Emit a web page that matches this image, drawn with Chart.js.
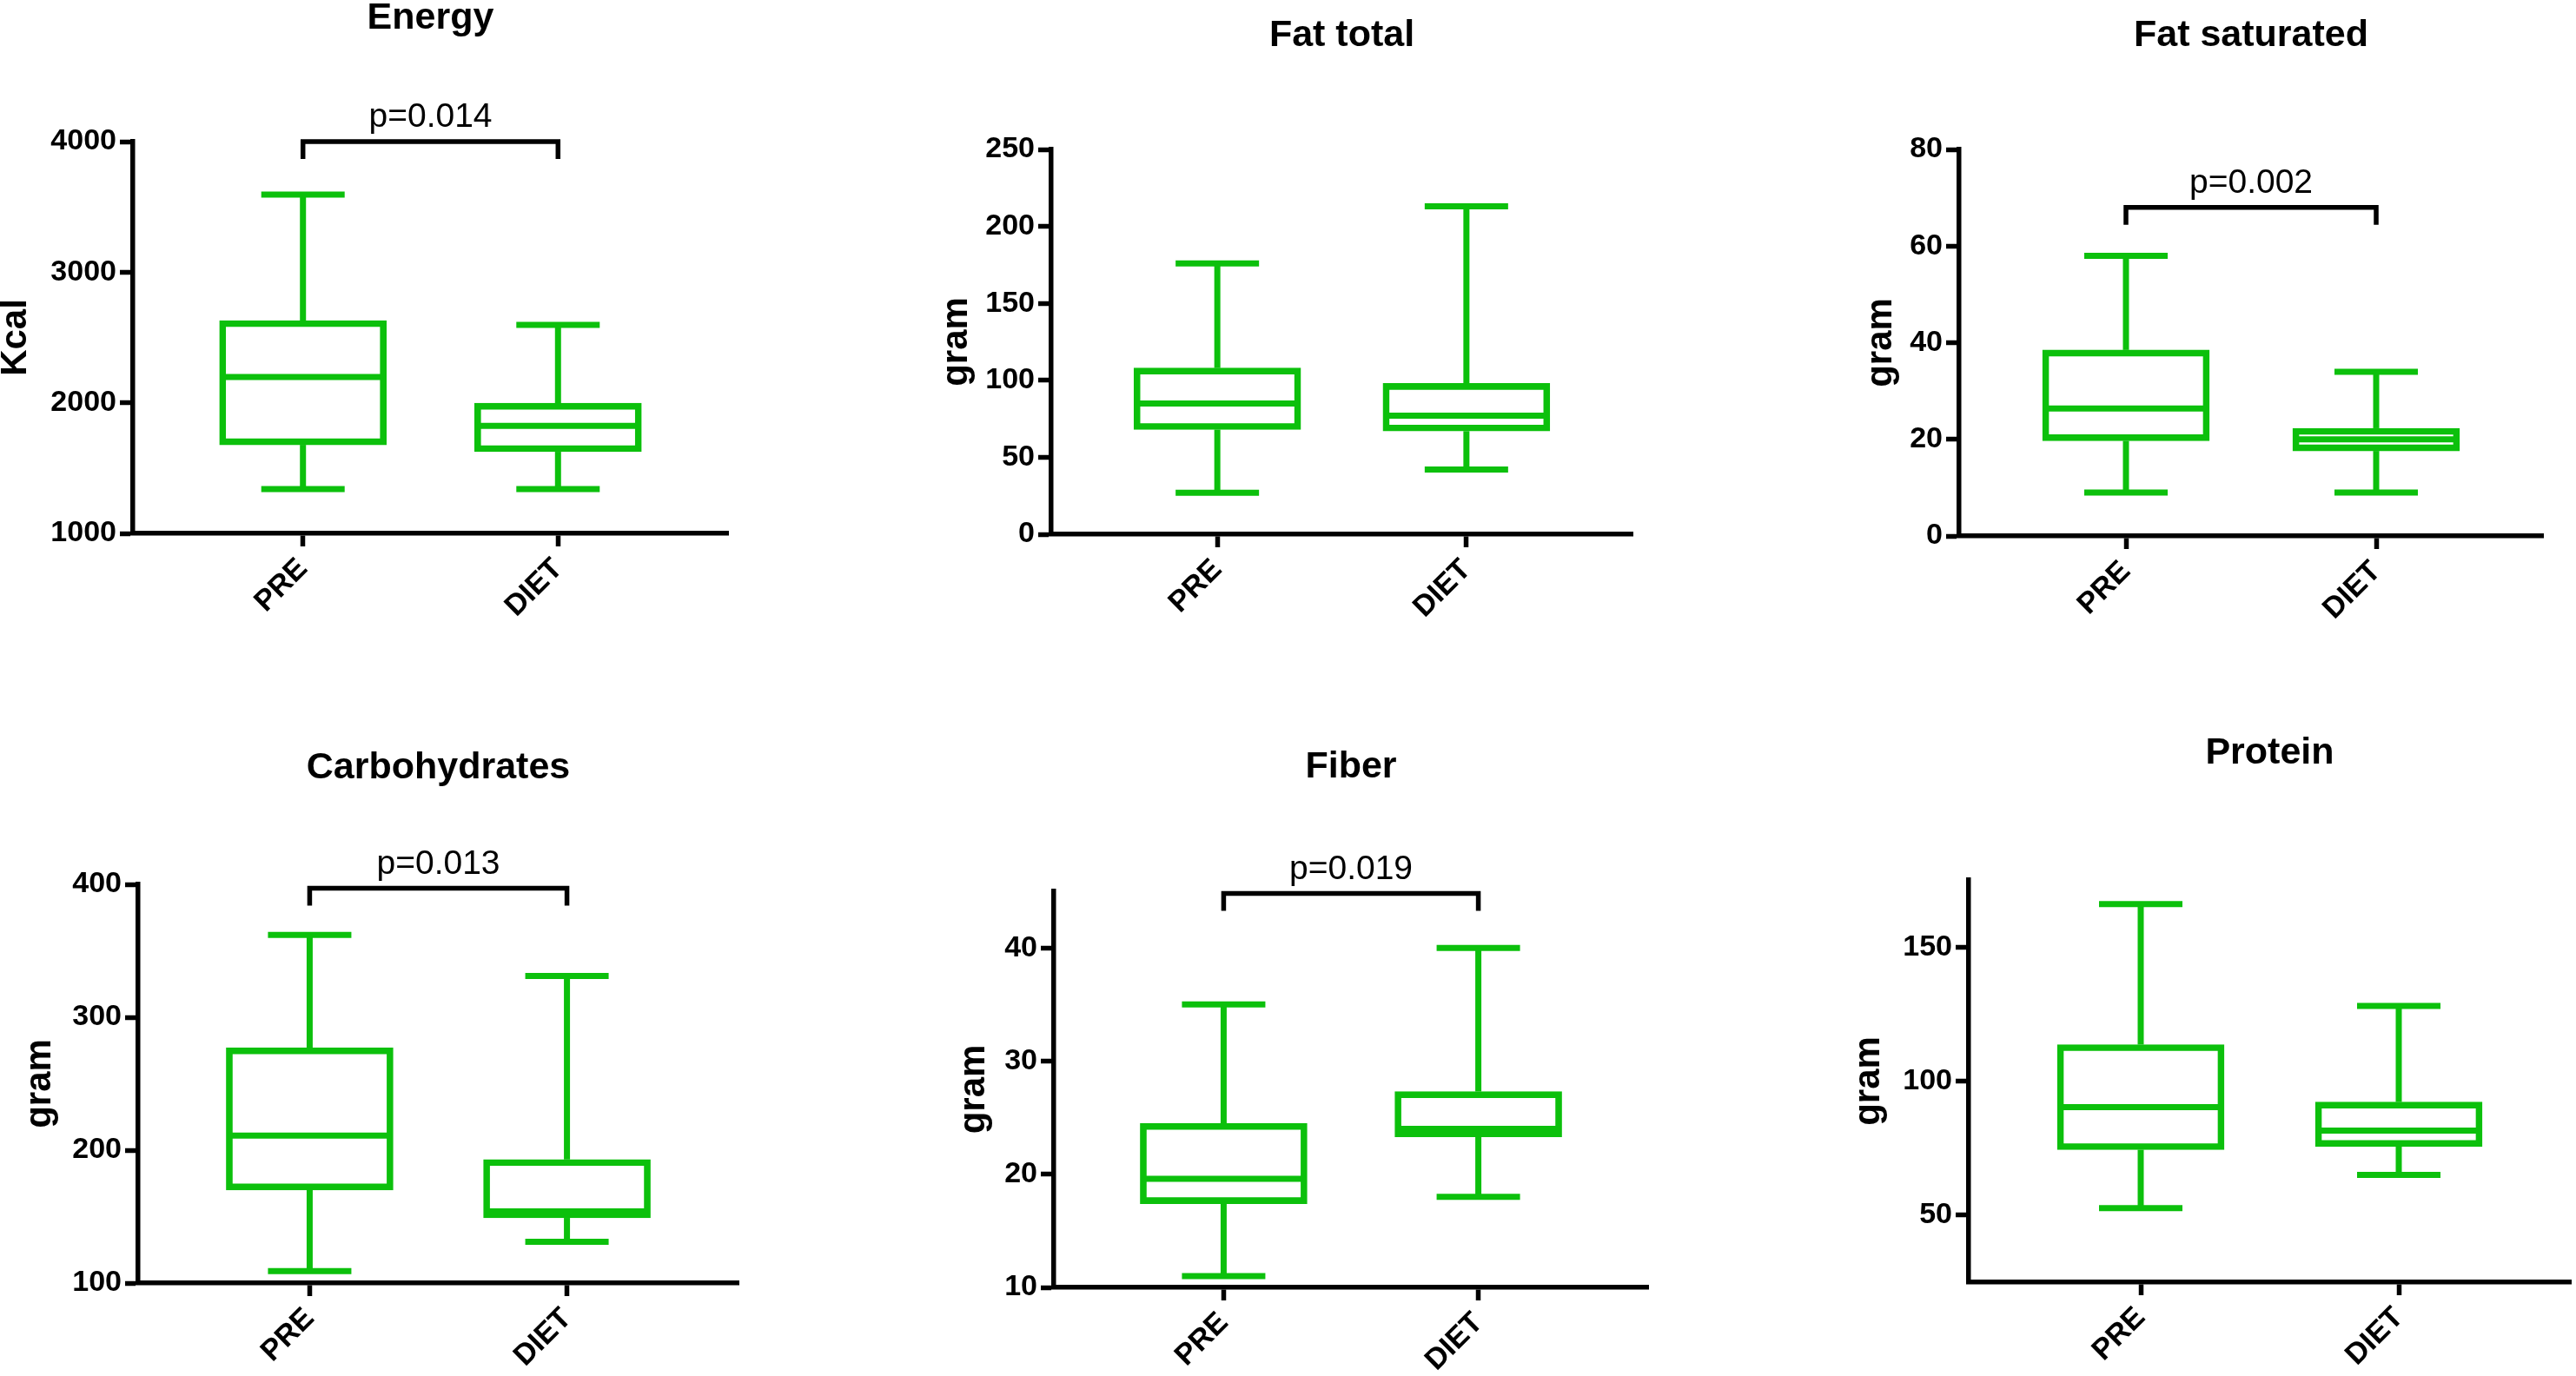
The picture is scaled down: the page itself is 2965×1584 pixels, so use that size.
<!DOCTYPE html>
<html>
<head>
<meta charset="utf-8">
<script src="https://cdn.jsdelivr.net/npm/chart.js@4.4.1/dist/chart.umd.min.js"></script>
<style>
  body { margin: 0; background: #fff; }
  #page { position: relative; width: 2965px; height: 1584px; overflow: hidden; background: #fff; }
  #page canvas { position: absolute; }
</style>
</head>
<body>
<div id="page"></div>
<script>
// groups and where they sit on the x axis (axis runs 0 .. 3.5)
const groups = ['PRE', 'DIET'];
const groupPos = [1, 2.5];

// box plot summaries: [min, Q1, median, Q3, max]
const energyPre = [1339, 1678, 2197, 2630, 3594];
const energyDiet = [1339, 1625, 1824, 1997, 2596];
const fatTotalPre = [27, 68, 85, 108, 176];
const fatTotalDiet = [42, 67, 77, 98, 213];
const fatSatPre = [9, 19.7, 26.4, 38.5, 58];
const fatSatDiet = [9, 17.6, 20, 22.3, 34];
const carbsPre = [109, 170, 211, 277, 362];
const carbsDiet = [131, 149, 154, 193, 331];
const fiberPre = [11, 17.4, 19.6, 24.5, 35];
const fiberDiet = [18, 23.3, 24, 27.3, 40];
const proteinPre = [52.6, 74.4, 90.3, 113.6, 166];
const proteinDiet = [65, 75.6, 81.5, 92.2, 128];

// y axis ranges and tick labels
const energyRange = [1000, 4000];
const fatTotalRange = [0, 250];
const fatSatRange = [0, 80];
const carbsRange = [100, 400];
const fiberRange = [10, 45];
const proteinRange = [25, 175];
const energyTicks = [1000, 2000, 3000, 4000];
const fatTotalTicks = [0, 50, 100, 150, 200, 250];
const fatSatTicks = [0, 20, 40, 60, 80];
const carbsTicks = [100, 200, 300, 400];
const fiberTicks = [10, 20, 30, 40];
const proteinTicks = [50, 100, 150];

// significance brackets (null = none)
const pLabels = ['p=0.014', null, 'p=0.002', 'p=0.013', 'p=0.019', null];
const pLevels = [4000, null, 68, 397, 44.8, null];

const panels = [
  { title: 'Energy', yTitle: 'Kcal', pre: energyPre, diet: energyDiet, range: energyRange, ticks: energyTicks },
  { title: 'Fat total', yTitle: 'gram', pre: fatTotalPre, diet: fatTotalDiet, range: fatTotalRange, ticks: fatTotalTicks },
  { title: 'Fat saturated', yTitle: 'gram', pre: fatSatPre, diet: fatSatDiet, range: fatSatRange, ticks: fatSatTicks },
  { title: 'Carbohydrates', yTitle: 'gram', pre: carbsPre, diet: carbsDiet, range: carbsRange, ticks: carbsTicks },
  { title: 'Fiber', yTitle: 'gram', pre: fiberPre, diet: fiberDiet, range: fiberRange, ticks: fiberTicks },
  { title: 'Protein', yTitle: 'gram', pre: proteinPre, diet: proteinDiet, range: proteinRange, ticks: proteinTicks }
];

// plot area of each panel on the page (L/R/T/B), title centre y, y-title centre x
const frames = [
  { L: 153, R: 838, T: 163, B: 614, ty: 21, lx: 18 },
  { L: 1210, R: 1879, T: 172, B: 615, ty: 41, lx: 1101 },
  { L: 2255, R: 2927, T: 172, B: 617, ty: 41, lx: 2165 },
  { L: 159, R: 850, T: 1018, B: 1477, ty: 884, lx: 46 },
  { L: 1213, R: 1897, T: 1026, B: 1482, ty: 883, lx: 1121 },
  { L: 2266, R: 2959, T: 1013, B: 1476, ty: 867, lx: 2151 }
];

const GREEN = 'rgb(12,192,12)';
const LINE_W = 7;
const AXIS_W = 5.5;
const BOX_W = 192;
const CAP_W = 96;
const X_AXIS_H = 140;
const TITLE_SIZE = 43;
const YTITLE_SIZE = 42;
const SANS = "'Liberation Sans', Arial, sans-serif";

// whiskers, medians and the p-value bracket
const boxExtras = {
  id: 'boxExtras',
  afterDatasetsDraw(chart, args, opts) {
    const { ctx } = chart;
    const x = chart.scales.x, y = chart.scales.y;
    const seg = (x1, y1, x2, y2) => { ctx.beginPath(); ctx.moveTo(x1, y1); ctx.lineTo(x2, y2); ctx.stroke(); };
    ctx.save();
    ctx.strokeStyle = GREEN;
    ctx.lineWidth = LINE_W;
    opts.stats.forEach((s, i) => {
      const cx = x.getPixelForValue(groupPos[i]);
      const [mn, q1, md, q3, mx] = s.map(v => y.getPixelForValue(v));
      seg(cx - BOX_W / 2 + 3, md, cx + BOX_W / 2 - 3, md);
      seg(cx, q3, cx, mx);
      seg(cx, q1, cx, mn);
      seg(cx - CAP_W / 2, mx, cx + CAP_W / 2, mx);
      seg(cx - CAP_W / 2, mn, cx + CAP_W / 2, mn);
    });
    if (opts.pLabel) {
      const yb = y.getPixelForValue(opts.pLevel);
      const x1 = x.getPixelForValue(groupPos[0]);
      const x2 = x.getPixelForValue(groupPos[1]);
      ctx.strokeStyle = '#000';
      ctx.lineWidth = AXIS_W;
      ctx.beginPath();
      ctx.moveTo(x1, yb + 20);
      ctx.lineTo(x1, yb);
      ctx.lineTo(x2, yb);
      ctx.lineTo(x2, yb + 20);
      ctx.stroke();
      ctx.fillStyle = '#000';
      ctx.font = '39px ' + SANS;
      ctx.textAlign = 'center';
      ctx.textBaseline = 'alphabetic';
      ctx.fillText(opts.pLabel, (x1 + x2) / 2, yb - 17);
    }
    ctx.restore();
  }
};

const page = document.getElementById('page');

panels.forEach((p, i) => {
  const f = frames[i];
  const left = Math.round(f.lx - YTITLE_SIZE / 2);
  const top = Math.max(0, Math.round(f.ty - TITLE_SIZE / 2));
  const width = f.R + 6 - left;
  const height = f.B + X_AXIS_H - top;
  const yAxisW = f.L - left;
  const titleGap = f.T - top - TITLE_SIZE;

  const canvas = document.createElement('canvas');
  canvas.width = width;
  canvas.height = height;
  canvas.style.left = left + 'px';
  canvas.style.top = top + 'px';
  canvas.style.width = width + 'px';
  canvas.style.height = height + 'px';
  page.appendChild(canvas);

  const stats = [p.pre, p.diet];

  new Chart(canvas.getContext('2d'), {
    type: 'bar',
    data: {
      datasets: [{
        data: stats.map((s, k) => ({ x: groupPos[k], y: [s[1], s[3]] })),
        backgroundColor: 'rgba(0,0,0,0)',
        borderColor: GREEN,
        borderWidth: LINE_W,
        borderSkipped: false,
        barThickness: BOX_W
      }]
    },
    options: {
      responsive: false,
      animation: false,
      devicePixelRatio: 1,
      layout: { padding: { left: 0, right: 6, top: 0, bottom: 0 } },
      scales: {
        x: {
          type: 'linear',
          min: 0,
          max: 3.5,
          offset: false,
          afterBuildTicks: s => { s.ticks = groupPos.map(v => ({ value: v })); },
          afterFit: s => { s.height = X_AXIS_H; },
          border: { display: true, color: '#000', width: AXIS_W },
          grid: { offset: false, drawOnChartArea: false, drawTicks: true, tickLength: 15, tickWidth: AXIS_W, tickColor: '#000' },
          ticks: {
            autoSkip: false,
            minRotation: 45,
            maxRotation: 45,
            padding: 6,
            color: '#000',
            font: { family: SANS, weight: 'bold', size: 34 },
            callback: v => groups[groupPos.indexOf(v)]
          }
        },
        y: {
          type: 'linear',
          min: p.range[0],
          max: p.range[1],
          afterBuildTicks: s => { s.ticks = p.ticks.map(v => ({ value: v })); },
          afterFit: s => { s.width = yAxisW; },
          border: { display: true, color: '#000', width: AXIS_W },
          grid: { drawOnChartArea: false, drawTicks: true, tickLength: 15, tickWidth: AXIS_W, tickColor: '#000' },
          ticks: {
            padding: 4,
            color: '#000',
            font: { family: SANS, weight: 'bold', size: 34 },
            callback: v => String(v)
          },
          title: {
            display: true,
            text: p.yTitle,
            color: '#000',
            padding: 0,
            font: { family: SANS, weight: 'bold', size: YTITLE_SIZE, lineHeight: 1 }
          }
        }
      },
      plugins: {
        legend: { display: false },
        tooltip: { enabled: false },
        title: {
          display: true,
          text: p.title,
          color: '#000',
          fullSize: false,
          padding: { top: 0, bottom: titleGap },
          font: { family: SANS, weight: 'bold', size: TITLE_SIZE, lineHeight: 1 }
        },
        boxExtras: { stats: stats, pLabel: pLabels[i], pLevel: pLevels[i] }
      }
    },
    plugins: [boxExtras]
  });
});
</script>
</body>
</html>
